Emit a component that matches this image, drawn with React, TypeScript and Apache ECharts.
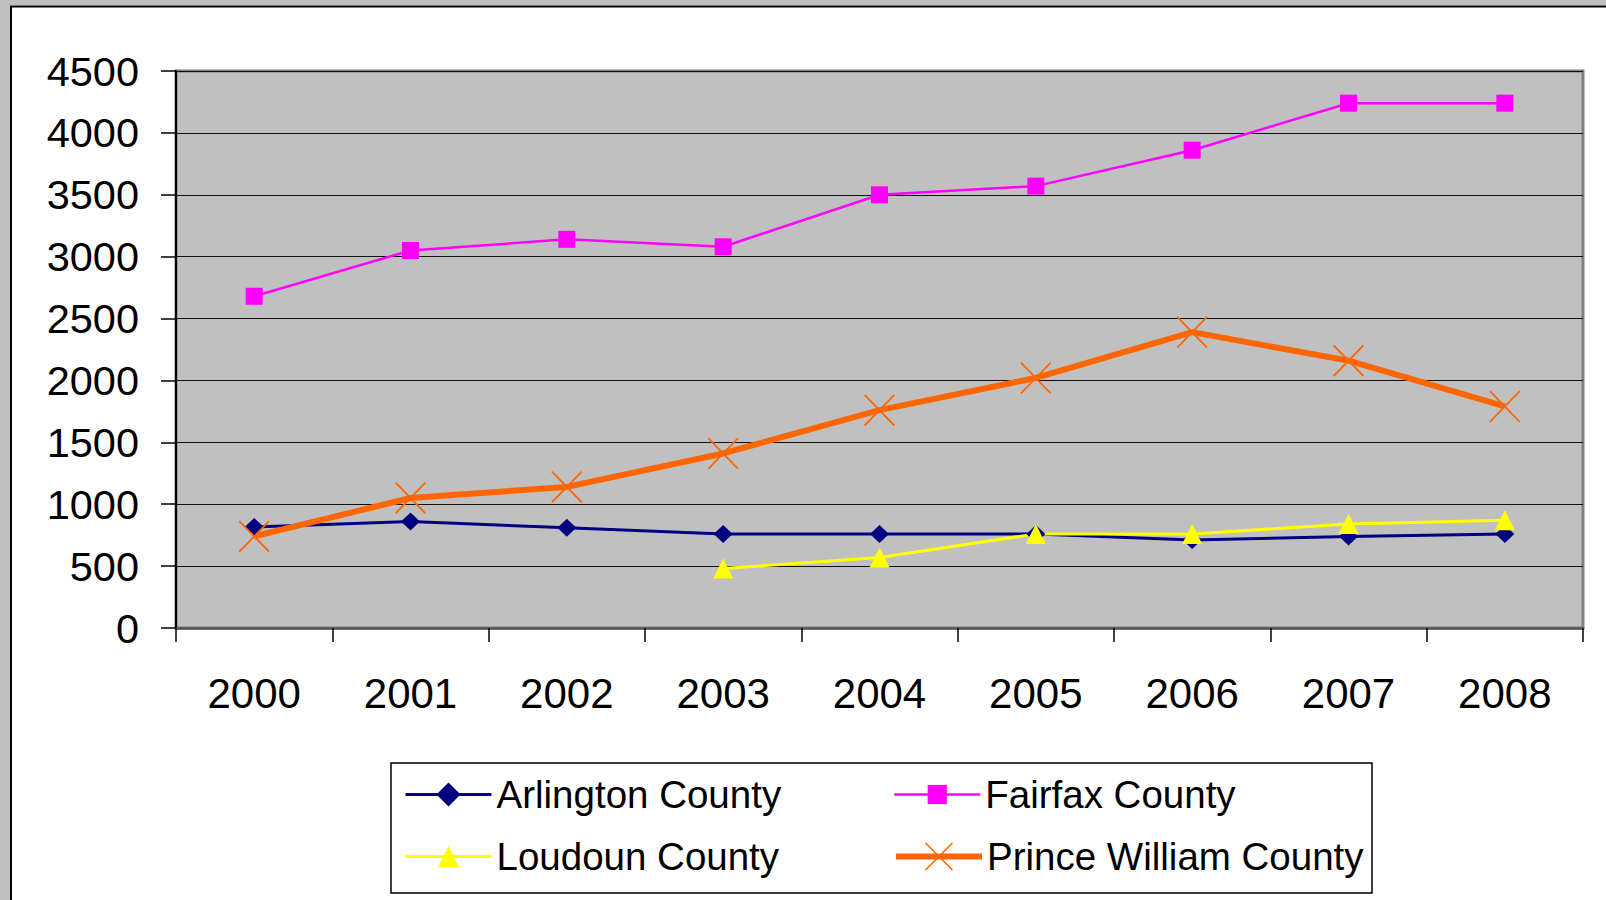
import React, { useEffect, useRef } from "react";
import * as echarts from "echarts";

const years = ["2000", "2001", "2002", "2003", "2004", "2005", "2006", "2007", "2008"];
const arlington = [815, 860, 810, 760, 760, 760, 710, 740, 760];
const fairfax = [2680, 3050, 3140, 3080, 3500, 3570, 3860, 4240, 4240];
const loudoun = [null, null, null, 480, 570, 760, 760, 840, 870];
const princeWilliam = [740, 1050, 1140, 1410, 1760, 2020, 2390, 2160, 1790];
const seriesNames = ["Arlington County", "Fairfax County", "Loudoun County", "Prince William County"];

const FONT = "'Liberation Sans', Arial, sans-serif";
const X_PATH = "path://M0 4L4 0L100 96L96 100Z M96 0L100 4L4 100L0 96Z";

export default function App() {
  const ref = useRef<HTMLDivElement>(null);
  useEffect(() => {
    if (!ref.current) return;
    const chart = echarts.init(ref.current, null, { renderer: "svg" });
    const legendBase = (name: string, left: number, top: number, itemHeight: number, lineWidth: number) => ({
      data: [name],
      left,
      top,
      padding: 0,
      orient: "horizontal",
      itemWidth: 86,
      itemHeight,
      selectedMode: false,
      lineStyle: { width: lineWidth },
      textStyle: { fontSize: 38.5, fontFamily: FONT, color: "#000" },
    });
    chart.setOption({
      animation: false,
      backgroundColor: "#ffffff",
      graphic: [
        { type: "rect", shape: { x: 0, y: 0, width: 1606, height: 5.5 }, style: { fill: "#c0c0c0" }, silent: true },
        { type: "rect", shape: { x: 0, y: 0, width: 10, height: 900 }, style: { fill: "#c0c0c0" }, silent: true },
        {
          type: "polyline",
          shape: { points: [[11, 900], [11, 6.5], [1606, 6.5]] },
          style: { stroke: "#000", lineWidth: 2, fill: "none" },
          silent: true,
        },
        {
          type: "rect",
          shape: { x: 391, y: 763, width: 981, height: 130 },
          style: { stroke: "#000", lineWidth: 1.5, fill: "none" },
          silent: true,
        },
      ],
      grid: {
        left: 176,
        right: 23,
        top: 71,
        bottom: 272,
        show: true,
        backgroundColor: "#c0c0c0",
        borderColor: "#808080",
        borderWidth: 3,
      },
      legend: [
        legendBase(seriesNames[0], 404, 775, 30, 3),
        legendBase(seriesNames[2], 404, 837, 26, 3),
        legendBase(seriesNames[1], 893, 775, 24, 2.5),
        legendBase(seriesNames[3], 893, 837, 35, 6),
      ],
      xAxis: {
        type: "category",
        data: years,
        boundaryGap: true,
        axisLine: { show: true, lineStyle: { color: "#555", width: 2.5 } },
        axisTick: { show: true, length: 14, lineStyle: { color: "#000", width: 1.5 } },
        axisLabel: { fontSize: 42, fontFamily: FONT, color: "#000", margin: 44 },
        splitLine: { show: false },
      },
      yAxis: {
        type: "value",
        min: 0,
        max: 4500,
        interval: 500,
        axisLine: { show: true, lineStyle: { color: "#000", width: 2 } },
        axisTick: { show: true, length: 15, lineStyle: { color: "#000", width: 1.5 } },
        axisLabel: {
          fontSize: 41.5,
          fontFamily: FONT,
          color: "#000",
          margin: 37,
          formatter: (v: number) => String(v),
        },
        splitLine: { show: true, lineStyle: { color: "#111", width: 1.2 } },
      },
      series: [
        {
          name: seriesNames[0],
          type: "line",
          data: arlington,
          symbol: "diamond",
          symbolSize: [19, 18],
          showAllSymbol: true,
          itemStyle: { color: "#000080" },
          lineStyle: { color: "#000080", width: 3 },
        },
        {
          name: seriesNames[1],
          type: "line",
          data: fairfax,
          symbol: "rect",
          symbolSize: [17, 17],
          showAllSymbol: true,
          itemStyle: { color: "#ff00ff" },
          lineStyle: { color: "#ff00ff", width: 2.5 },
        },
        {
          name: seriesNames[2],
          type: "line",
          data: loudoun,
          symbol: "triangle",
          symbolSize: [20, 20],
          showAllSymbol: true,
          connectNulls: false,
          itemStyle: { color: "#ffff00" },
          lineStyle: { color: "#ffff00", width: 3 },
        },
        {
          name: seriesNames[3],
          type: "line",
          data: princeWilliam,
          symbol: X_PATH,
          symbolSize: [31, 32],
          showAllSymbol: true,
          itemStyle: { color: "#ff6600" },
          lineStyle: { color: "#ff6600", width: 6 },
        },
      ],
    });
    return () => chart.dispose();
  }, []);
  return (
    <div
      ref={ref}
      style={{ position: "fixed", left: 0, top: 0, width: 1606, height: 900 }}
    />
  );
}
